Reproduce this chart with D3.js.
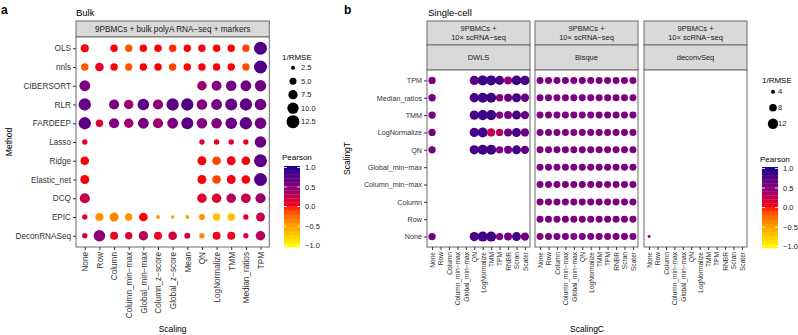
<!DOCTYPE html>
<html>
<head>
<meta charset="utf-8">
<script src="https://cdn.jsdelivr.net/npm/d3@7"></script>
<style>
  body { margin: 0; background: #fff; }
  text { font-family: "Liberation Sans", Arial, Helvetica, sans-serif; }
</style>
</head>
<body>
<svg id="chart" width="798" height="335"></svg>
<script>
// ---- panel a data (bulk) ----
const methodsA = ["OLS", "nnls", "CIBERSORT", "RLR", "FARDEEP", "Lasso", "Ridge", "Elastic_net", "DCQ", "EPIC", "DeconRNASeq"];
const scalingsA = ["None", "Row", "Column", "Column_min−max", "Global_min−max", "Column_z−score", "Global_z−score", "Mean", "QN", "LogNormalize", "TMM", "Median_ratios", "TPM"];
const n = null;
const rmseA = [
  [6.0, n, 5.4, 5.4, 5.4, 5.4, 5.4, 5.4, 5.4, 5.4, 5.4, 5.3, 12.5],
  [5.4, 6.7, 5.4, 5.3, 5.4, 5.4, 5.4, 5.4, 5.4, 5.4, 5.4, 5.3, 12.5],
  [9.4, n, n, n, n, n, n, n, 7.7, 8.2, 9.0, 9.4, 10.0],
  [11.5, n, 8.6, 7.7, 10.5, 8.6, 11.5, 11.5, 9.0, 9.4, 11.0, 11.5, 10.5],
  [11.5, 5.4, 8.6, 7.7, 9.4, 8.6, 9.4, 11.0, 9.0, 9.0, 10.5, 11.5, 10.5],
  [3.5, n, n, n, n, n, n, n, 3.5, 3.6, 3.6, 3.5, 10.5],
  [6.7, n, n, n, n, n, n, n, 7.0, 6.7, 7.0, 6.7, 12.5],
  [7.0, n, n, n, n, n, n, n, 7.0, 6.7, 7.0, 6.7, 12.5],
  [8.6, n, n, n, n, n, n, n, 7.7, 7.7, 7.7, 8.0, 8.6],
  [3.5, 6.0, 7.0, 5.4, 6.7, 2.5, 2.2, 2.5, 4.0, 5.4, 5.4, 3.5, 7.0],
  [3.5, 10.5, 6.0, 5.4, 7.7, 6.0, 6.7, 4.0, 3.5, 6.0, 6.0, 3.5, 7.7]
];
const pearsonA = [
  [0.02, n, 0.0, -0.15, 0.0, 0.0, -0.05, 0.0, 0.05, 0.0, 0.0, -0.1, 0.75],
  [-0.15, 0.1, 0.0, -0.15, 0.0, 0.0, -0.1, 0.0, 0.03, 0.0, 0.0, -0.12, 0.78],
  [0.55, n, n, n, n, n, n, n, 0.4, 0.5, 0.6, 0.6, 0.6],
  [0.65, n, 0.55, 0.4, 0.7, 0.45, 0.7, 0.75, 0.5, 0.55, 0.65, 0.7, 0.6],
  [0.7, 0.15, 0.5, 0.4, 0.55, 0.4, 0.5, 0.72, 0.5, 0.5, 0.62, 0.7, 0.6],
  [0.1, n, n, n, n, n, n, n, 0.15, 0.1, 0.15, 0.1, 0.65],
  [0.02, n, n, n, n, n, n, n, 0.02, -0.1, 0.05, 0.02, 0.7],
  [0.02, n, n, n, n, n, n, n, 0.02, -0.1, 0.05, 0.02, 0.75],
  [0.25, n, n, n, n, n, n, n, 0.1, 0.12, 0.3, 0.25, 0.4],
  [0.1, -0.4, -0.35, -0.4, 0.0, -0.45, -0.45, -0.5, -0.4, -0.65, -0.65, 0.1, 0.25],
  [0.2, 0.45, 0.05, 0.15, 0.3, 0.05, 0.2, 0.2, -0.35, 0.05, 0.05, 0.15, 0.3]
];

// ---- panel b data (single-cell) ----
const scalingT = ["TPM", "Median_ratios", "TMM", "LogNormalize", "QN", "Global_min−max", "Column_min−max", "Column", "Row", "None"];
const scalingC = ["None", "Row", "Column", "Column_min−max", "Global_min−max", "QN", "LogNormalize", "TMM", "TPM", "RNBR", "Scran", "Scater"];
const facetsB = ["DWLS", "Bisque", "deconvSeq"];
const nil = [n, n, n, n, n, n, n, n, n, n, n, n];
const dwlsRMSE = [
  [7.6, n, n, n, n, 10.3, 11.4, 11.4, 10.0, 8.5, 11.0, 10.6],
  [7.6, n, n, n, n, 10.3, 11.4, 11.4, 7.6, 8.5, 9.9, 8.9],
  [7.6, n, n, n, n, 10.3, 11.4, 11.4, 7.6, 8.5, 9.9, 8.9],
  [7.6, n, n, n, n, 10.3, 11.4, 8.9, 7.6, 8.5, 9.9, 8.9],
  [7.6, n, n, n, n, 10.3, 11.4, 11.4, 7.6, 8.5, 9.9, 8.9],
  nil, nil, nil, nil,
  [7.6, n, n, n, n, 10.3, 11.4, 11.4, 7.6, 8.5, 9.9, 8.9]
];
const dwlsPearson = [
  [0.55, n, n, n, n, 0.7, 0.88, 0.85, 0.82, 0.45, 0.85, 0.8],
  [0.55, n, n, n, n, 0.8, 0.85, 0.85, 0.5, 0.6, 0.82, 0.65],
  [0.55, n, n, n, n, 0.8, 0.85, 0.85, 0.5, 0.6, 0.82, 0.65],
  [0.55, n, n, n, n, 0.8, 0.85, 0.25, 0.3, 0.6, 0.82, 0.6],
  [0.55, n, n, n, n, 0.8, 0.85, 0.85, 0.5, 0.6, 0.82, 0.65],
  nil, nil, nil, nil,
  [0.55, n, n, n, n, 0.8, 0.85, 0.85, 0.5, 0.6, 0.82, 0.6]
];
const bisqueRMSE = [
  [7.2, 7.2, 7.2, 7.2, 7.2, 7.2, 7.2, 7.2, 7.2, 7.2, 7.2, 7.2],
  [7.2, 7.2, 7.2, 7.2, 7.2, 7.2, 7.2, 7.2, 7.2, 7.2, 7.2, 7.2],
  [7.2, 7.2, 7.2, 7.2, 7.2, 7.2, 7.2, 7.2, 7.2, 7.2, 7.2, 7.2],
  [7.2, 7.2, 7.2, 7.2, 7.2, 7.2, 7.2, 7.2, 7.2, 7.2, 7.2, 7.2],
  [7.2, 7.2, 7.2, 7.2, 7.2, 7.2, 7.2, 7.2, 7.2, 7.2, 7.2, 7.2],
  [7.2, 7.2, 7.2, 7.2, 7.2, 7.2, 7.2, 7.2, 7.2, 7.2, 7.2, 7.2],
  [7.2, 7.2, 7.2, 7.2, 7.2, 7.2, 7.2, 7.2, 7.2, 7.2, 7.2, 7.2],
  [7.2, 7.2, 7.2, 7.2, 7.2, 7.2, 7.2, 7.2, 7.2, 7.2, 7.2, 7.2],
  [7.2, 7.2, 7.2, 7.2, 7.2, 7.2, 7.2, 7.2, 7.2, 7.2, 7.2, 7.2],
  [7.2, 7.2, 7.2, 7.2, 7.2, 7.2, 7.2, 7.2, 7.2, 7.2, 7.2, 7.2]
];
const bisquePearson = [
  [0.52, 0.52, 0.52, 0.52, 0.52, 0.52, 0.52, 0.52, 0.52, 0.52, 0.52, 0.52],
  [0.52, 0.52, 0.52, 0.52, 0.52, 0.52, 0.52, 0.52, 0.52, 0.52, 0.52, 0.52],
  [0.52, 0.52, 0.52, 0.52, 0.52, 0.52, 0.52, 0.52, 0.52, 0.52, 0.52, 0.52],
  [0.52, 0.52, 0.52, 0.52, 0.52, 0.52, 0.52, 0.52, 0.52, 0.52, 0.52, 0.52],
  [0.52, 0.52, 0.52, 0.52, 0.52, 0.52, 0.52, 0.52, 0.52, 0.52, 0.52, 0.52],
  [0.52, 0.52, 0.52, 0.52, 0.52, 0.52, 0.52, 0.52, 0.52, 0.52, 0.52, 0.52],
  [0.52, 0.52, 0.52, 0.52, 0.52, 0.52, 0.52, 0.52, 0.52, 0.52, 0.52, 0.52],
  [0.52, 0.52, 0.52, 0.52, 0.52, 0.52, 0.52, 0.52, 0.52, 0.52, 0.52, 0.52],
  [0.52, 0.52, 0.52, 0.52, 0.52, 0.52, 0.52, 0.52, 0.52, 0.52, 0.52, 0.52],
  [0.52, 0.52, 0.52, 0.52, 0.52, 0.52, 0.52, 0.52, 0.52, 0.52, 0.52, 0.52]
];
const deconvRMSE = [nil, nil, nil, nil, nil, nil, nil, nil, nil, [3.1, n, n, n, n, n, n, n, n, n, n, n]];
const deconvPearson = [nil, nil, nil, nil, nil, nil, nil, nil, nil, [0.5, n, n, n, n, n, n, n, n, n, n, n]];

const sizeLabelsA = ["2.5", "5.0", "7.5", "10.0", "12.5"];
const sizeLabelsB = ["4", "8", "12"];
const pearsonBreaks = [1.0, 0.5, 0.0, -0.5, -1.0];

// ---- scales ----
const pearsonColor = d3.scaleLinear()
  .domain([-1, -0.5, 0, 0.5, 1])
  .range(["#ffff00", "#ffa500", "#ff0000", "#800080", "#00008b"])
  .interpolate(d3.interpolateLab)
  .clamp(true);
const sizeA = d3.scaleSqrt().domain([2.5, 12.5]).range([2, 6.5]);
const sizeB = d3.scaleSqrt().domain([4, 12]).range([2, 5.2]);

const svg = d3.select("#chart");
const border = "#6b6b6b";
const fmt = v => (v < 0 ? "−" + d3.format(".1f")(-v) : d3.format(".1f")(v));

function cells(rows, cols, rmse, pearson) {
  const out = [];
  rows.forEach((r, i) => cols.forEach((c, j) => {
    if (rmse[i][j] != null) out.push({ row: r, col: c, rmse: rmse[i][j], p: pearson[i][j] });
  }));
  return out;
}

function panel(x0, x1, y0, y1, rows, cols, data, size, opts) {
  const x = d3.scalePoint().domain(cols).range([x0, x1]).padding(0.6);
  const y = d3.scalePoint().domain(rows).range([y0, y1]).padding(0.6);
  const g = svg.append("g");
  g.append("rect").attr("x", x0).attr("y", y0).attr("width", x1 - x0).attr("height", y1 - y0)
    .attr("fill", "#fff");
  g.selectAll("circle").data(data).enter().append("circle")
    .attr("cx", d => x(d.col)).attr("cy", d => y(d.row))
    .attr("r", d => size(d.rmse))
    .attr("fill", d => pearsonColor(d.p));
  g.append("rect").attr("x", x0).attr("y", y0).attr("width", x1 - x0).attr("height", y1 - y0)
    .attr("fill", "none").attr("stroke", border).attr("stroke-width", 1);

  g.append("g").attr("transform", `translate(0,${y1})`)
    .call(d3.axisBottom(x).tickSize(3).tickPadding(2))
    .call(a => a.select(".domain").remove())
    .call(a => a.selectAll(".tick line").attr("stroke", "#333"))
    .call(a => a.selectAll("text")
      .attr("transform", "rotate(-90)").attr("text-anchor", "end")
      .attr("x", -5).attr("y", 0).attr("dy", "0.35em")
      .style("fill", "#333").style("font-size", opts.xfont + "px")
      .style("font-family", "'Liberation Sans', Arial, sans-serif"));

  if (opts.yaxis) {
    g.append("g").attr("transform", `translate(${x0},0)`)
      .call(d3.axisLeft(y).tickSize(3).tickPadding(2))
      .call(a => a.select(".domain").remove())
      .call(a => a.selectAll(".tick line").attr("stroke", "#333"))
      .call(a => a.selectAll("text").style("fill", "#333").style("font-size", opts.yfont + "px")
        .style("font-family", "'Liberation Sans', Arial, sans-serif"));
  }
}

function strip(x0, x1, y0, y1, lines, fontSize) {
  svg.append("rect").attr("x", x0).attr("y", y0).attr("width", x1 - x0).attr("height", y1 - y0)
    .attr("fill", "#d9d9d9").attr("stroke", border).attr("stroke-width", 1);
  const cy = (y0 + y1) / 2;
  const lh = fontSize * 1.2;
  lines.forEach((t, i) => {
    svg.append("text").attr("x", (x0 + x1) / 2)
      .attr("y", cy + (i - (lines.length - 1) / 2) * lh)
      .attr("dy", "0.35em").attr("text-anchor", "middle")
      .style("font-size", fontSize + "px").style("fill", "#1a1a1a").text(t);
  });
}

function sizeLegend(x, yTitle, labels, size, ys, labelX) {
  svg.append("text").attr("x", x).attr("y", yTitle).style("font-size", "8px").text("1/RMSE");
  labels.forEach((b, i) => {
    svg.append("circle").attr("cx", x + 11).attr("cy", ys[i]).attr("r", size(+b)).attr("fill", "#000");
    svg.append("text").attr("x", labelX).attr("y", ys[i]).attr("dy", "0.35em")
      .style("font-size", "7.5px").style("fill", "#1a1a1a").text(b);
  });
}

function colorLegend(x, yTitle, barTop, barBottom, labelX) {
  svg.append("text").attr("x", x).attr("y", yTitle).style("font-size", "8px").text("Pearson");
  const bx = x + 2, bw = 16;
  const yb = d3.scaleLinear().domain([-1, 1]).range([barBottom - 1.5, barTop + 1.5]);
  const bins = d3.range(20);
  const h = (barBottom - barTop) / 20;
  svg.append("g").selectAll("rect").data(bins).enter().append("rect")
    .attr("x", bx).attr("width", bw)
    .attr("y", i => barBottom - (i + 1) * h).attr("height", h + 0.3)
    .attr("fill", i => pearsonColor(-1 + (i + 0.5) * 2 / 20));
  pearsonBreaks.forEach(b => {
    const yy = yb(b);
    svg.append("line").attr("x1", bx).attr("x2", bx + 3).attr("y1", yy).attr("y2", yy)
      .attr("stroke", "#fff").attr("stroke-width", 0.8);
    svg.append("line").attr("x1", bx + bw - 3).attr("x2", bx + bw).attr("y1", yy).attr("y2", yy)
      .attr("stroke", "#fff").attr("stroke-width", 0.8);
    svg.append("text").attr("x", labelX).attr("y", yy).attr("dy", "0.35em")
      .style("font-size", "7.5px").style("fill", "#1a1a1a").text(fmt(b));
  });
}

// ---- panel a ----
svg.append("text").attr("x", 1).attr("y", 14).style("font-size", "12px").style("font-weight", "bold").text("a");
svg.append("text").attr("x", 76).attr("y", 16).style("font-size", "9.5px").text("Bulk");
strip(76, 269.3, 21, 37, ["9PBMCs + bulk polyA RNA−seq + markers"], 8.2);
panel(76, 269.3, 37, 247, methodsA, scalingsA, cells(methodsA, scalingsA, rmseA, pearsonA), sizeA,
  { yaxis: true, xfont: 8.2, yfont: 8.2 });
svg.append("text").attr("x", 172.6).attr("y", 332).attr("text-anchor", "middle").style("font-size", "8.5px").text("Scaling");
svg.append("text").attr("transform", "translate(12,142) rotate(-90)").attr("text-anchor", "middle")
  .style("font-size", "8.5px").text("Method");
sizeLegend(282, 60, sizeLabelsA, sizeA, [67.7, 81.2, 94.7, 108.2, 121.7], 301);
colorLegend(282, 160, 166, 247, 305);

// ---- panel b ----
svg.append("text").attr("x", 344).attr("y", 14).style("font-size", "12px").style("font-weight", "bold").text("b");
svg.append("text").attr("x", 428).attr("y", 16).style("font-size", "9.5px").text("Single-cell");
const facetX = [[427, 530], [535, 638], [644, 747]];
const facetData = [
  cells(scalingT, scalingC, dwlsRMSE, dwlsPearson),
  cells(scalingT, scalingC, bisqueRMSE, bisquePearson),
  cells(scalingT, scalingC, deconvRMSE, deconvPearson)
];
facetsB.forEach((f, i) => {
  const [x0, x1] = facetX[i];
  strip(x0, x1, 21, 45, ["9PBMCs +", "10× scRNA−seq"], 7.5);
  strip(x0, x1, 45, 70, [f], 7.5);
  panel(x0, x1, 70, 247, scalingT, scalingC, facetData[i], sizeB,
    { yaxis: i === 0, xfont: 6.6, yfont: 7.2 });
});
svg.append("text").attr("x", 587).attr("y", 332).attr("text-anchor", "middle").style("font-size", "8.5px").text("ScalingC");
svg.append("text").attr("transform", "translate(350,158.5) rotate(-90)").attr("text-anchor", "middle")
  .style("font-size", "8.5px").text("ScalingT");
sizeLegend(762, 83, sizeLabelsB, sizeB, [91.7, 107.7, 123.7], 778);
colorLegend(760, 162, 167, 248, 783);
</script>
</body>
</html>
